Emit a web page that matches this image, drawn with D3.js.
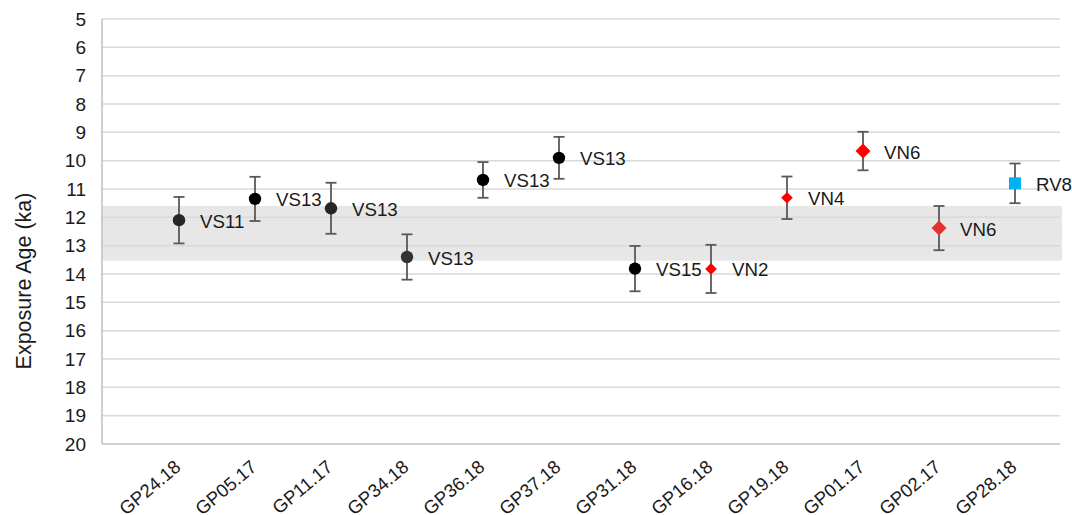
<!DOCTYPE html>
<html>
<head>
<meta charset="utf-8">
<script src="https://cdn.jsdelivr.net/npm/d3@7"></script>
<style>
  body { margin: 0; background: #fff; }
  text { font-family: "Liberation Sans", Arial, sans-serif; fill: #1a1a1a; }
</style>
</head>
<body>
<svg id="chart" width="1072" height="515"></svg>
<script>
// sample names, in plot order
var samples = ["GP24.18", "GP05.17", "GP11.17", "GP34.18", "GP36.18", "GP37.18",
               "GP31.18", "GP16.18", "GP19.18", "GP01.17", "GP02.17", "GP28.18"];

// exposure ages (ka) and 1 sigma errors
var ages   = [12.1, 11.35, 11.68, 13.4, 10.68, 9.9, 13.81, 13.82, 11.31, 9.66, 12.38, 10.8];
var errors = [0.82, 0.78, 0.9, 0.8, 0.63, 0.74, 0.8, 0.85, 0.75, 0.68, 0.78, 0.7];

// moraine labels next to the points
var moraines = ["VS11", "VS13", "VS13", "VS13", "VS13", "VS13",
                "VS15", "VN2", "VN4", "VN6", "VN6", "RV8"];

// which excel series each point belongs to
var seriesOf = ["s1", "s0", "s1", "s2", "s0", "s0", "s0", "s3", "s3", "s4", "s5", "s6"];

// mean age band (ka)
var band = [11.6, 13.53];

var yTicks = d3.range(5, 21);

/* ========================================================================== */

// marker style per series
var markerStyle = {
    s0: { shape: "circle",  r: 6.2, fill: "#000000" },
    s1: { shape: "circle",  r: 6.2, fill: "#262626" },
    s2: { shape: "circle",  r: 6.2, fill: "#333333" },
    s3: { shape: "diamond", r: 5.8, fill: "#ff0000" },
    s4: { shape: "diamond", r: 7.5, fill: "#ff0000" },
    s5: { shape: "diamond", r: 7.5, fill: "#e8302e" },
    s6: { shape: "square",  r: 6,   fill: "#00b0f0" }
};

var plotLeft = 102, plotRight = 1060, plotTop = 19, plotBottom = 444;

var svg = d3.select("#chart");

var x = d3.scalePoint()
    .domain(samples)
    .range([179, 1015]);

var y = d3.scaleLinear()
    .domain([5, 20])
    .range([plotTop, plotBottom]);

// grey band
svg.append("rect")
    .attr("x", plotLeft)
    .attr("y", y(band[0]))
    .attr("width", plotRight + 2 - plotLeft)
    .attr("height", y(band[1]) - y(band[0]))
    .attr("fill", "#e7e7e7");

// gridlines
svg.append("g")
    .selectAll("line")
    .data(yTicks.filter(function (d) { return d < 20; }))
    .enter().append("line")
    .attr("x1", plotLeft)
    .attr("x2", plotRight)
    .attr("y1", function (d) { return y(d); })
    .attr("y2", function (d) { return y(d); })
    .attr("stroke", "#d9d9d9")
    .attr("stroke-width", 1.5);

// y axis
var yAxis = svg.append("g")
    .attr("transform", "translate(" + plotLeft + ",0)")
    .call(d3.axisLeft(y).tickValues(yTicks).tickSize(0).tickPadding(16));
yAxis.select(".domain").remove();
yAxis.selectAll("text")
    .style("font-size", "19px")
    .style("font-family", "'Liberation Sans', Arial, sans-serif")
    .attr("fill", "#1a1a1a");

// axis lines
svg.append("line")
    .attr("x1", plotLeft).attr("x2", plotLeft)
    .attr("y1", plotTop).attr("y2", plotBottom)
    .attr("stroke", "#bfbfbf").attr("stroke-width", 1.5);
svg.append("line")
    .attr("x1", plotLeft).attr("x2", plotRight)
    .attr("y1", plotBottom).attr("y2", plotBottom)
    .attr("stroke", "#bfbfbf").attr("stroke-width", 1.5);

// x labels
svg.append("g")
    .selectAll("text")
    .data(samples)
    .enter().append("text")
    .attr("transform", function (d) {
        return "translate(" + (x(d) + 3) + ",469) rotate(-40)";
    })
    .attr("text-anchor", "end")
    .style("font-size", "18.5px")
    .text(function (d) { return d; });

// y title
svg.append("text")
    .attr("transform", "translate(31,281) rotate(-90)")
    .attr("text-anchor", "middle")
    .style("font-size", "21.5px")
    .text("Exposure Age (ka)");

// error bars
var eb = svg.append("g")
    .attr("stroke", "#595959")
    .attr("stroke-width", 1.8);

samples.forEach(function (s, i) {
    var cx = x(s);
    var y0 = y(ages[i] - errors[i]);
    var y1 = y(ages[i] + errors[i]);
    eb.append("line").attr("x1", cx).attr("x2", cx).attr("y1", y0).attr("y2", y1);
    eb.append("line").attr("x1", cx - 5.5).attr("x2", cx + 5.5).attr("y1", y0).attr("y2", y0);
    eb.append("line").attr("x1", cx - 5.5).attr("x2", cx + 5.5).attr("y1", y1).attr("y2", y1);
});

// markers
samples.forEach(function (s, i) {
    var st = markerStyle[seriesOf[i]];
    var cx = x(s);
    var cy = y(ages[i]);
    if (st.shape == "circle") {
        svg.append("circle")
            .attr("cx", cx).attr("cy", cy).attr("r", st.r)
            .attr("fill", st.fill);
    }
    if (st.shape == "diamond") {
        var r = st.r;
        svg.append("path")
            .attr("d", "M" + cx + "," + (cy - r) + "L" + (cx + r) + "," + cy +
                       "L" + cx + "," + (cy + r) + "L" + (cx - r) + "," + cy + "Z")
            .attr("fill", st.fill);
    }
    if (st.shape == "square") {
        svg.append("rect")
            .attr("x", cx - st.r).attr("y", cy - st.r)
            .attr("width", st.r * 2).attr("height", st.r * 2)
            .attr("fill", st.fill);
    }
});

// data labels
svg.append("g")
    .selectAll("text")
    .data(samples)
    .enter().append("text")
    .attr("x", function (d) { return x(d) + 21; })
    .attr("y", function (d, i) { return y(ages[i]) + 1; })
    .attr("dominant-baseline", "central")
    .style("font-size", "18.7px")
    .text(function (d, i) { return moraines[i]; });
</script>
</body>
</html>
